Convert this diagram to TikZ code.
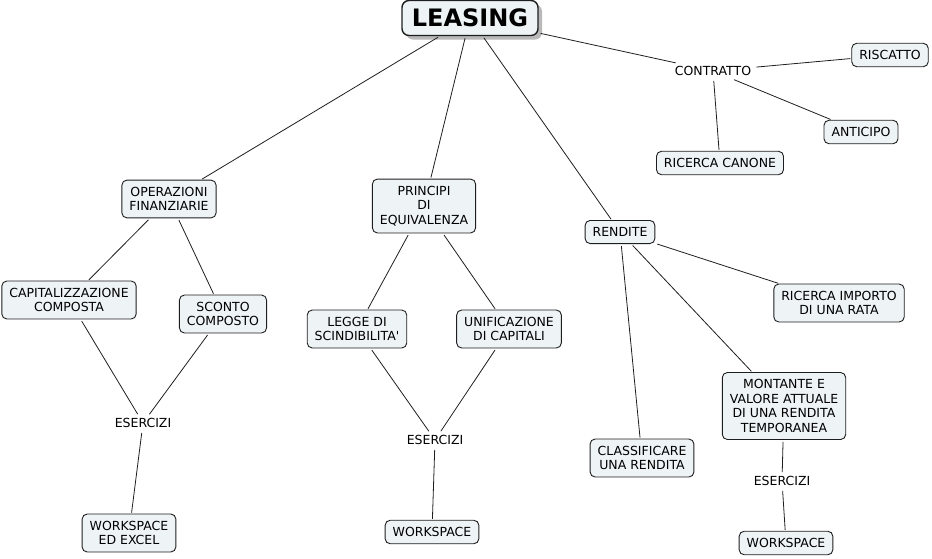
\documentclass[tikz,border=0pt]{standalone}
\usepackage{fontspec}
\setmainfont{DejaVu Sans}[Ligatures=TeXOff]
\usetikzlibrary{shadows}
\definecolor{boxfill}{RGB}{238,243,245}
\definecolor{edgecol}{RGB}{30,30,30}
\begin{document}
\begin{tikzpicture}[x=1pt,y=-1pt,
  topic/.style={draw=edgecol, fill=boxfill, rounded corners=5pt, line width=0.9pt,
    font=\fontsize{12.5}{14.5}\selectfont, align=center, inner xsep=7.5pt, inner ysep=7pt},
  plain/.style={font=\fontsize{12.5}{14.5}\selectfont, inner sep=3pt},
  root/.style={draw=edgecol, fill=boxfill, rounded corners=7pt, line width=1.4pt,
    font=\fontsize{24}{26}\selectfont\bfseries, minimum width=136pt, minimum height=35pt,
    drop shadow={shadow xshift=4pt, shadow yshift=-4pt, fill=gray!55, opacity=1}},
  link/.style={draw=edgecol, line width=0.8pt, shorten <=2pt, shorten >=1pt}]
\useasboundingbox (0,0) rectangle (932,558);

\node[root] (leasing) at (470,18) {LEASING};

\node[plain] (contratto) at (713,71) {CONTRATTO};
\node[topic] (riscatto) at (890,55) {RISCATTO};
\node[topic] (anticipo) at (861,132) {ANTICIPO};
\node[topic] (canone) at (720,163) {RICERCA CANONE};

\node[topic] (operaz) at (169,199) {OPERAZIONI\\FINANZIARIE};
\node[topic] (principi) at (424,206) {PRINCIPI\\DI\\EQUIVALENZA};
\node[topic] (rendite) at (620,232) {RENDITE};

\node[topic] (capit) at (69,300) {CAPITALIZZAZIONE\\COMPOSTA};
\node[topic] (sconto) at (223,314) {SCONTO\\COMPOSTO};
\node[topic] (legge) at (357,329) {LEGGE DI\\SCINDIBILITA'};
\node[topic] (unif) at (509,329) {UNIFICAZIONE\\DI CAPITALI};
\node[topic] (importo) at (839,303) {RICERCA IMPORTO\\DI UNA RATA};
\node[topic] (montante) at (784,406) {MONTANTE E\\VALORE ATTUALE\\DI UNA RENDITA\\TEMPORANEA};
\node[topic] (classif) at (642,458) {CLASSIFICARE\\UNA RENDITA};

\node[plain] (eserA) at (143,423) {ESERCIZI};
\node[plain] (eserB) at (435,440) {ESERCIZI};
\node[plain] (eserC) at (782,481) {ESERCIZI};

\node[topic] (wsA) at (129,533) {WORKSPACE\\ED EXCEL};
\node[topic] (wsB) at (432,532) {WORKSPACE};
\node[topic] (wsC) at (786,543) {WORKSPACE};

\draw[link] (leasing) -- (operaz);
\draw[link] (leasing) -- (principi);
\draw[link] (leasing) -- (rendite);
\draw[link] (leasing) -- (contratto);
\draw[link] (contratto) -- (riscatto);
\draw[link] (contratto) -- (anticipo);
\draw[link] (contratto) -- (canone);
\draw[link] (operaz) -- (capit);
\draw[link] (operaz) -- (sconto);
\draw[link] (capit) -- (eserA);
\draw[link] (sconto) -- (eserA);
\draw[link] (eserA) -- (wsA);
\draw[link] (principi) -- (legge);
\draw[link] (principi) -- (unif);
\draw[link] (legge) -- (eserB);
\draw[link] (unif) -- (eserB);
\draw[link] (eserB) -- (wsB);
\draw[link] (rendite) -- (importo);
\draw[link] (rendite) -- (montante);
\draw[link] (rendite) -- (classif);
\draw[link] (montante) -- (eserC);
\draw[link] (eserC) -- (wsC);
\end{tikzpicture}
\end{document}
